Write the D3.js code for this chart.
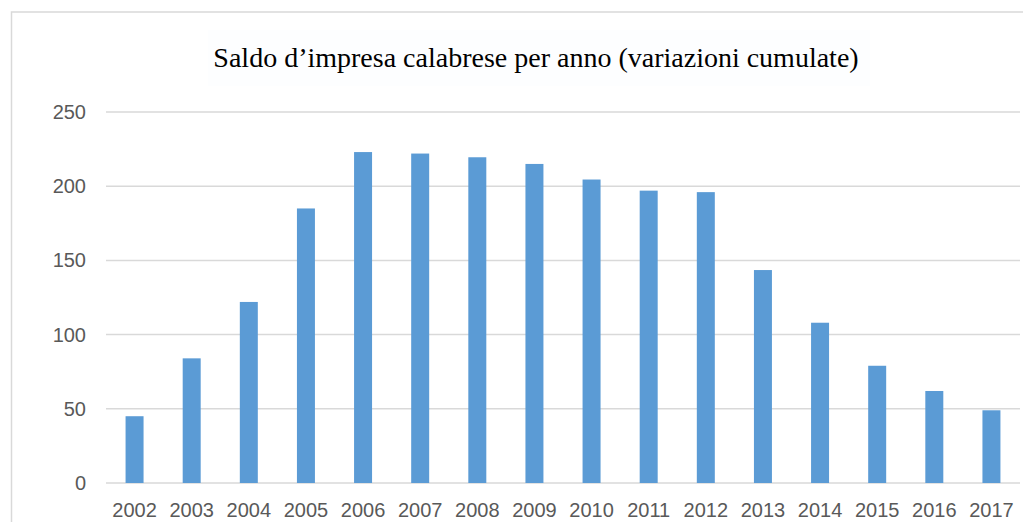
<!DOCTYPE html>
<html lang="it">
<head>
<meta charset="utf-8">
<title>Saldo d'impresa calabrese</title>
<script src="https://d3js.org/d3.v7.min.js"></script>
<style>
  body { margin: 0; background: #fff; }
</style>
</head>
<body>
<div id="chart"></div>
<script>
// dati
var years = ["2002","2003","2004","2005","2006","2007","2008","2009","2010","2011","2012","2013","2014","2015","2016","2017"];
var saldo = [45, 84, 122, 185, 223, 222, 219.5, 215, 204.5, 197, 196, 143.5, 108, 79, 62, 49];
var yTicks = [0, 50, 100, 150, 200, 250];
var title = "Saldo d\u2019impresa calabrese per anno (variazioni cumulate)";

var W = 1023, H = 522;
var margin = {top: 112, right: 3, bottom: 39, left: 106};

var svg = d3.select("#chart").append("svg")
    .attr("width", W)
    .attr("height", H);

// cornice dell'area grafico
svg.append("rect")
    .attr("x", 11.5).attr("y", 12)
    .attr("width", W + 20).attr("height", H + 20)
    .attr("fill", "none")
    .attr("stroke", "#d9d9d9")
    .attr("stroke-width", 1.5);

var x = d3.scaleBand()
    .domain(years)
    .range([margin.left, W - margin.right])
    .paddingInner(0.685)
    .paddingOuter(0.3425);

var y = d3.scaleLinear()
    .domain([0, 250])
    .range([H - margin.bottom, margin.top]);

// griglia
svg.append("g")
    .selectAll("line")
    .data(yTicks)
    .enter().append("line")
      .attr("x1", margin.left)
      .attr("x2", W - margin.right)
      .attr("y1", function(d) { return y(d); })
      .attr("y2", function(d) { return y(d); })
      .attr("stroke", "#d9d9d9")
      .attr("stroke-width", 1.5);

// asse y
var yAxis = svg.append("g")
    .attr("transform", "translate(" + margin.left + ",0)")
    .call(d3.axisLeft(y).tickValues(yTicks).tickSize(0).tickPadding(20));
yAxis.select(".domain").remove();
yAxis.selectAll("text")
    .attr("fill", "#595959")
    .style("font-family", "'Liberation Sans', Arial, sans-serif")
    .style("font-size", "20px");

// barre
svg.append("g")
    .selectAll("rect")
    .data(saldo)
    .enter().append("rect")
      .attr("x", function(d, i) { return x(years[i]); })
      .attr("y", function(d) { return y(d); })
      .attr("width", x.bandwidth())
      .attr("height", function(d) { return y(0) - y(d); })
      .attr("fill", "#5b9bd5");

// asse x
var xAxis = svg.append("g")
    .attr("transform", "translate(0," + y(0) + ")")
    .call(d3.axisBottom(x).tickSize(0).tickPadding(20));
xAxis.select(".domain").remove();
xAxis.selectAll("text")
    .attr("fill", "#595959")
    .style("font-family", "'Liberation Sans', Arial, sans-serif")
    .style("font-size", "20px");

// titolo
svg.append("rect")
    .attr("x", 208).attr("y", 30)
    .attr("width", 662).attr("height", 56)
    .attr("fill", "#fdfeff");
svg.append("text")
    .attr("x", 536)
    .attr("y", 67)
    .attr("text-anchor", "middle")
    .attr("fill", "#000")
    .style("font-family", "'Liberation Serif', 'Times New Roman', serif")
    .style("font-size", "28px")
    .text(title);
</script>
</body>
</html>
